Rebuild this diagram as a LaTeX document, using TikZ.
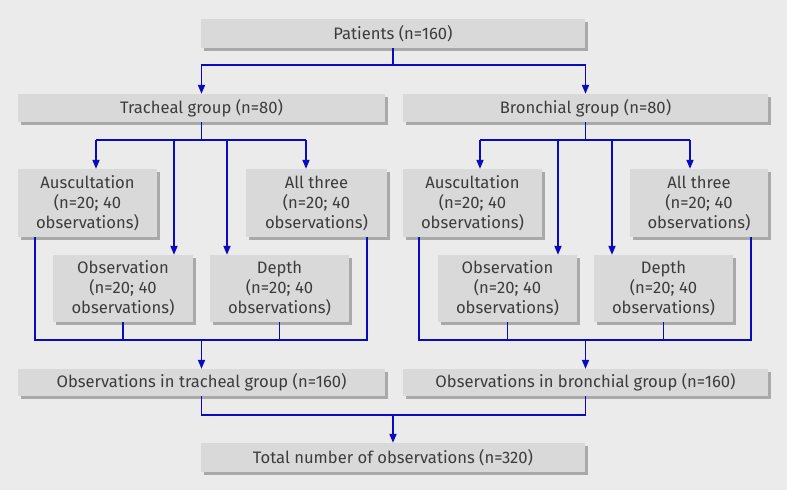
\documentclass[tikz,border=0pt]{standalone}
\usepackage{fontspec}
\setmainfont{Fira Sans}
\usetikzlibrary{arrows.meta,shadows,calc}
\definecolor{bg}{HTML}{EBEBEB}
\definecolor{boxfill}{HTML}{D9D9D9}
\definecolor{shade}{HTML}{A9A9A9}
\definecolor{txt}{HTML}{3C3C3C}
\definecolor{lineblue}{HTML}{0A0ABE}
\tikzset{
  box/.style={fill=boxfill, draw=none, inner sep=0pt, align=center, text=txt,
    font=\fontsize{16.6}{20}\selectfont,
    drop shadow={shadow xshift=3pt, shadow yshift=-3pt, fill=shade, opacity=1}},
  conn/.style={draw=lineblue, line width=1.8pt},
  arr/.style={conn, -{Triangle[length=9pt,width=7pt]}},
}
\begin{document}
\begin{tikzpicture}[x=1pt,y=-1pt]
\fill[bg] (0,0) rectangle (787,490);
\useasboundingbox (0,0) rectangle (787,490);

\node[box, minimum width=384pt, minimum height=29pt] (pat) at (393,33.5) {Patients (n=160)};
\node[box, minimum width=367pt, minimum height=28pt] (tra) at (201.5,108) {Tracheal group (n=80)};
\node[box, minimum width=365pt, minimum height=28pt] (bro) at (585.5,108) {Bronchial group (n=80)};

\node[box, minimum width=139pt, minimum height=68pt] (ausT) at (87.5,203) {Auscultation\\(n=20; 40\\observations)};
\node[box, minimum width=141pt, minimum height=68pt] (allT) at (316.5,203) {All three\\(n=20; 40\\observations)};
\node[box, minimum width=140pt, minimum height=67pt] (obsT) at (123,288.5) {Observation\\(n=20; 40\\observations)};
\node[box, minimum width=139pt, minimum height=67pt] (depT) at (279.5,288.5) {Depth\\(n=20; 40\\observations)};

\node[box, minimum width=139pt, minimum height=68pt] (ausB) at (472.5,203) {Auscultation\\(n=20; 40\\observations)};
\node[box, minimum width=138pt, minimum height=68pt] (allB) at (699,203) {All three\\(n=20; 40\\observations)};
\node[box, minimum width=139pt, minimum height=67pt] (obsB) at (507.5,288.5) {Observation\\(n=20; 40\\observations)};
\node[box, minimum width=139pt, minimum height=67pt] (depB) at (663.5,288.5) {Depth\\(n=20; 40\\observations)};

\node[box, minimum width=367pt, minimum height=27pt] (otT) at (201.5,382.5) {Observations in tracheal group (n=160)};
\node[box, minimum width=365pt, minimum height=27pt] (otB) at (585.5,382.5) {Observations in bronchial group (n=160)};
\node[box, minimum width=384pt, minimum height=29pt] (tot) at (393,457.5) {Total number of observations (n=320)};

% top split
\coordinate (j0) at (393,65);
\draw[conn] (pat.south) -- (j0);
\draw[arr] (j0) -| (tra.north);
\draw[arr] (j0) -| (bro.north);

% tracheal split
\coordinate (jT) at (201.5,140);
\draw[conn] (tra.south) -- (jT);
\draw[conn] ([xshift=8.5pt]ausT.north |- jT) -- ([xshift=-10.5pt]allT.north |- jT);
\draw[arr] ([xshift=8.5pt]ausT.north |- jT) -- ([xshift=8.5pt]ausT.north);
\draw[arr] ([xshift=-10.5pt]allT.north |- jT) -- ([xshift=-10.5pt]allT.north);
\draw[arr] ([xshift=51pt]obsT.north |- jT) -- ([xshift=51pt]obsT.north);
\draw[arr] ([xshift=-52.5pt]depT.north |- jT) -- ([xshift=-52.5pt]depT.north);

% bronchial split
\coordinate (jB) at (585.5,140);
\draw[conn] (bro.south) -- (jB);
\draw[conn] ([xshift=7.5pt]ausB.north |- jB) -- ([xshift=-9pt]allB.north |- jB);
\draw[arr] ([xshift=7.5pt]ausB.north |- jB) -- ([xshift=7.5pt]ausB.north);
\draw[arr] ([xshift=-9pt]allB.north |- jB) -- ([xshift=-9pt]allB.north);
\draw[arr] ([xshift=50.5pt]obsB.north |- jB) -- ([xshift=50.5pt]obsB.north);
\draw[arr] ([xshift=-51.5pt]depB.north |- jB) -- ([xshift=-51.5pt]depB.north);

% tracheal merge
\coordinate (mT) at (201.5,340);
\draw[conn] ([xshift=-52.5pt]ausT.south) |- (mT) -| ([xshift=50.5pt]allT.south);
\draw[conn] (obsT.south) -- (obsT.south |- mT);
\draw[conn] (depT.south) -- (depT.south |- mT);
\draw[arr] (mT) -- (otT.north);

% bronchial merge
\coordinate (mB) at (585.5,340);
\draw[conn] ([xshift=-53.5pt]ausB.south) |- (mB) -| ([xshift=52pt]allB.south);
\draw[conn] (obsB.south) -- (obsB.south |- mB);
\draw[conn] (depB.south) -- (depB.south |- mB);
\draw[arr] (mB) -- (otB.north);

% final merge
\coordinate (jF) at (393,415);
\draw[conn] (otT.south) |- (jF) -| (otB.south);
\draw[arr] (jF) -- (tot.north);
\end{tikzpicture}
\end{document}
